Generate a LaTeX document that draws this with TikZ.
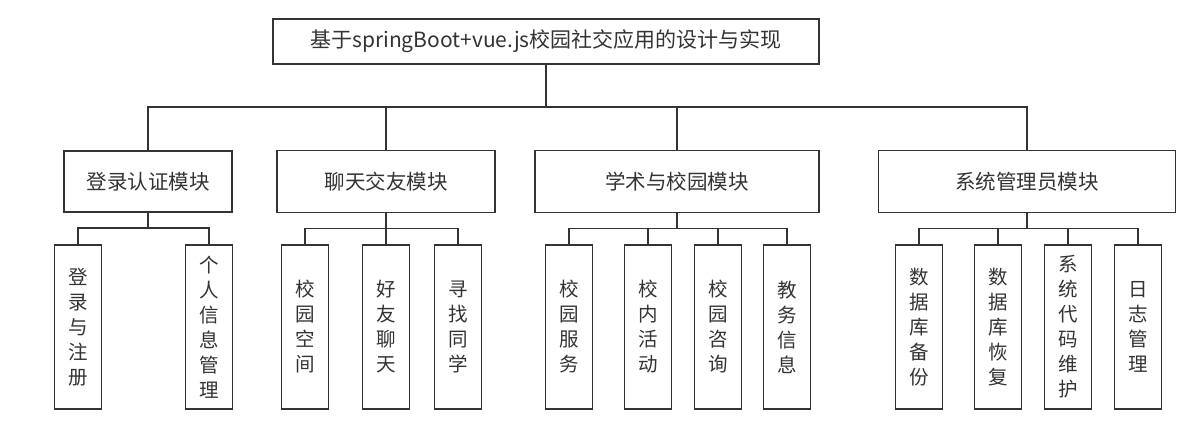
\documentclass[tikz,border=0pt]{standalone}
\usepackage{fontspec}
\newfontfamily\cjk{Noto Sans CJK SC}
\definecolor{linegray}{HTML}{333333}

\begin{document}
\begin{tikzpicture}[x=1pt,y=-1pt,
	box/.style={draw=linegray,line width=1.8pt,inner sep=0pt,outer sep=0pt,text=linegray,font=\cjk\fontsize{20.5}{24}\selectfont},
	leaf/.style={box,minimum width=47pt,minimum height=164pt,align=center,font=\cjk\fontsize{19.5}{25}\selectfont},
	link/.style={draw=linegray,line width=1.8pt}]
	\useasboundingbox (0,0) rectangle (1191,442);
	\node[box,minimum width=546pt,minimum height=45pt,font=\cjk\fontsize{21}{24}\selectfont](root) at (546,41.5){基于springBoot+vue.js校园社交应用的设计与实现};
	
	\node[box,minimum width=168pt,minimum height=61pt](login) at (148,181.5){登录认证模块};
	\node[box,minimum width=218pt,minimum height=62pt](chat) at (386,181.5){聊天交友模块};
	\node[box,minimum width=284pt,minimum height=62pt](campus) at (677,181.5){学术与校园模块};
	\node[box,minimum width=297pt,minimum height=62pt](admin) at (1027,181.5){系统管理员模块};
	
	\node[leaf](register) at (78,327){登\\录\\与\\注\\册};
	\node[leaf](profile) at (209,327){个\\人\\信\\息\\管\\理};
	\node[leaf](space) at (305,327){校\\园\\空\\间};
	\node[leaf](friends) at (386,327){好\\友\\聊\\天};
	\node[leaf](classmates) at (458,327){寻\\找\\同\\学};
	\node[leaf](service) at (569,327){校\\园\\服\\务};
	\node[leaf](activity) at (648,327){校\\内\\活\\动};
	\node[leaf](consult) at (718,327){校\\园\\咨\\询};
	\node[leaf](academic) at (787,327){教\\务\\信\\息};
	\node[leaf](backup) at (919,327){数\\据\\库\\备\\份};
	\node[leaf](restore) at (998,327){数\\据\\库\\恢\\复};
	\node[leaf](codes) at (1068,327){系\\统\\代\\码\\维\\护};
	\node[leaf](logs) at (1138,327){日\\志\\管\\理};
	
	\foreach \m in {login,chat,campus,admin}
		\draw[link] (root.south) -- +(0,43) -| (\m.north);
	\foreach \l in {register,profile}
		\draw[link] (login.south) -- +(0,16) -| (\l.north);
	\foreach \l in {space,friends,classmates}
		\draw[link] (chat.south) -- +(0,16) -| (\l.north);
	\foreach \l in {service,activity,consult,academic}
		\draw[link] (campus.south) -- +(0,16) -| (\l.north);
	\foreach \l in {backup,restore,codes,logs}
		\draw[link] (admin.south) -- +(0,16) -| (\l.north);
\end{tikzpicture}
\end{document}
